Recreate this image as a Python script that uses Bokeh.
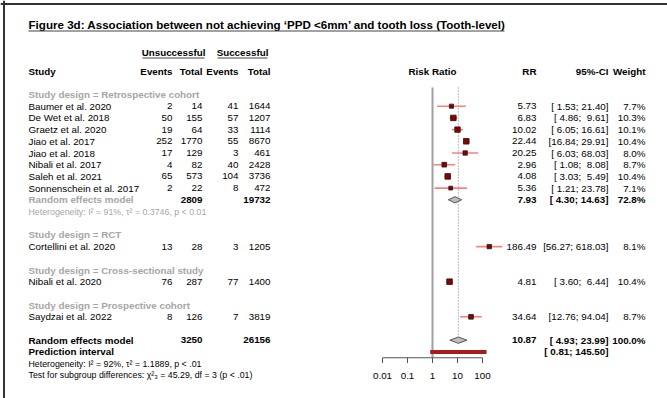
from bokeh.plotting import figure
from bokeh.models import Range1d, LogScale, Span
from bokeh.core.properties import value
from bokeh.embed import file_html
from bokeh.resources import INLINE

# ---------------- data ----------------
title = "Figure 3d: Association between not achieving \u2018PPD <6mm\u2019 and tooth loss (Tooth-level)"
group_names = ["Retrospective cohort", "RCT", "Cross-sectional study", "Prospective cohort"]
studies = ["Baumer et al. 2020", "De Wet et al. 2018", "Graetz et al. 2020", "Jiao et al. 2017",
           "Jiao et al. 2018", "Nibali et al. 2017", "Saleh et al. 2021", "Sonnenschein et al. 2017",
           "Cortellini et al. 2020", "Nibali et al. 2020", "Saydzai et al. 2022"]
study_group = [0, 0, 0, 0, 0, 0, 0, 0, 1, 2, 3]
ev_u = [2, 50, 19, 252, 17, 4, 65, 2, 13, 76, 8]
tot_u = [14, 155, 64, 1770, 129, 82, 573, 22, 28, 287, 126]
ev_s = [41, 57, 33, 55, 3, 40, 104, 8, 3, 77, 7]
tot_s = [1644, 1207, 1114, 8670, 461, 2428, 3736, 472, 1205, 1400, 3819]
rr = [5.73, 6.83, 10.02, 22.44, 20.25, 2.96, 4.08, 5.36, 186.49, 4.81, 34.64]
ci_lo = [1.53, 4.86, 6.05, 16.84, 6.03, 1.08, 3.03, 1.21, 56.27, 3.60, 12.76]
ci_hi = [21.40, 9.61, 16.61, 29.91, 68.03, 8.08, 5.49, 23.78, 618.03, 6.44, 94.04]
weight = [7.7, 10.3, 10.1, 10.4, 8.0, 8.7, 10.4, 7.1, 8.1, 10.4, 8.7]

# subgroup random-effects summary (only the retrospective cohort has one)
sub_rr = [7.93]
sub_lo = [4.30]
sub_hi = [14.63]
sub_w = [72.8]
sub_tot_u = [2809]
sub_tot_s = [19732]
sub_het = ["Heterogeneity: I\u00b2 = 91%, \u03c4\u00b2 = 0.3746, p < 0.01"]

# overall
all_rr, all_lo, all_hi, all_w = 10.87, 4.93, 23.99, 100.0
all_tot_u, all_tot_s = 3250, 26156
pred_lo, pred_hi = 0.81, 145.50
all_het = "Heterogeneity: I\u00b2 = 92%, \u03c4\u00b2 = 1.1889, p < .01"
test_sub = "Test for subgroup differences: \u03c7\u00b2\u2083 = 45.29, df = 3 (p < .01)"

tick_vals = [0.01, 0.1, 1, 10, 100]
tick_labels = ["0.01", "0.1", "1", "10", "100"]

# ---------------- layout ----------------
W, H = 667, 398
Y0, DY = 94.0, 11.7          # pixel of row 0, row height
X1, XD = 432.0, 25.0         # pixel of RR=1, pixels per decade

def row_of_px(px):
    return (px - Y0) / DY

FONT = value("Liberation Sans")
FS = "9.8px"
FS_SMALL = "8.8px"
GRAY = "#a6a6a6"

p = figure(width=W, height=H, output_backend="svg", toolbar_location=None,
           x_range=Range1d(0, W), y_range=Range1d(row_of_px(H), row_of_px(0)),
           x_axis_type=None, y_axis_type=None, min_border=0)
p.outline_line_color = None
p.grid.visible = False
p.background_fill_color = "white"
p.extra_x_ranges = {"log": Range1d(10 ** ((0 - X1) / XD), 10 ** ((W - X1) / XD))}
p.extra_x_scales = {"log": LogScale()}

# column positions (px)
C_LABEL, C_EU, C_TU, C_ES, C_TS = 28, 172, 202, 238, 270
C_RR, C_CI, C_W = 536, 608, 645

def txt(x, y, t, align="left", bold=False, color="black", size=FS, italic=False):
    style = "bold" if bold else ("italic" if italic else "normal")
    p.text(x=x, y=y, text=t, text_font=FONT, text_font_size=size,
           text_font_style=style, text_color=color, text_align=align,
           text_baseline="middle")

def ci_str(lo, hi):
    return ("[%5.2f; %5.2f]" % (lo, hi)).replace(" ", "\u00a0")

# frame lines
p.add_layout(Span(location=row_of_px(3.5), dimension="width", line_color="#333333", line_width=2))
p.add_layout(Span(location=3.5, dimension="height", line_color="#333333", line_width=2))

# title
r_title = row_of_px(23.5)
txt([C_LABEL], [r_title], [title], bold=True, size="11.6px")
p.segment(x0=[C_LABEL], x1=[504], y0=[row_of_px(30.5)], y1=[row_of_px(30.5)], line_color="#444444", line_width=1)

# headers
r_h1 = row_of_px(52)
txt([173, 242], [r_h1, r_h1], ["Unsuccessful", "Successful"], align="center", bold=True)
ul = row_of_px(57.5)
p.segment(x0=[142, 217], x1=[204, 267], y0=[ul, ul], y1=[ul, ul], line_color="#444444", line_width=1)
r_h2 = -2
txt([C_LABEL], [r_h2], ["Study"], bold=True)
txt([C_EU, C_TU, C_ES, C_TS, C_RR, C_CI, C_W], [r_h2] * 7,
    ["Events", "Total", "Events", "Total", "RR", "95%-CI", "Weight"], align="right", bold=True)
txt([X1], [r_h2], ["Risk Ratio"], align="center", bold=True)

# assign rows
rows = []
r = 0
sub_rows = []
het_rows = []
for g, gname in enumerate(group_names):
    txt([C_LABEL], [r], ["Study design = " + gname], bold=True, color=GRAY)
    r += 1
    for i, sg in enumerate(study_group):
        if sg == g:
            rows.append(r)
            r += 1
    if g == 0:
        sub_rows.append(r)
        r += 1
        het_rows.append(r)
        r += 1
    r += 1
r_all = r
r_pred = r + 1
r_het = r + 2
r_test = r + 3

# study text columns
txt([C_LABEL] * len(studies), rows, studies)
txt([C_EU] * len(rows), rows, [str(v) for v in ev_u], align="right")
txt([C_TU] * len(rows), rows, [str(v) for v in tot_u], align="right")
txt([C_ES] * len(rows), rows, [str(v) for v in ev_s], align="right")
txt([C_TS] * len(rows), rows, [str(v) for v in tot_s], align="right")
txt([C_RR] * len(rows), rows, ["%.2f" % v for v in rr], align="right")
txt([C_CI] * len(rows), rows, [ci_str(a, b) for a, b in zip(ci_lo, ci_hi)], align="right")
txt([C_W] * len(rows), rows, ["%.1f%%" % v for v in weight], align="right")

# subgroup summary text
txt([C_LABEL] * len(sub_rows), sub_rows, ["Random effects model"] * len(sub_rows), bold=True, color=GRAY)
txt([C_TU] * len(sub_rows), sub_rows, [str(v) for v in sub_tot_u], align="right", bold=True)
txt([C_TS] * len(sub_rows), sub_rows, [str(v) for v in sub_tot_s], align="right", bold=True)
txt([C_RR] * len(sub_rows), sub_rows, ["%.2f" % v for v in sub_rr], align="right", bold=True)
txt([C_CI] * len(sub_rows), sub_rows, [ci_str(a, b) for a, b in zip(sub_lo, sub_hi)], align="right", bold=True)
txt([C_W] * len(sub_rows), sub_rows, ["%.1f%%" % v for v in sub_w], align="right", bold=True)
txt([C_LABEL] * len(het_rows), het_rows, sub_het, color=GRAY, size=FS_SMALL)

# overall text
txt([C_LABEL, C_LABEL], [r_all, r_pred], ["Random effects model", "Prediction interval"], bold=True)
txt([C_TU, C_TS], [r_all, r_all], [str(all_tot_u), str(all_tot_s)], align="right", bold=True)
txt([C_RR, C_CI, C_W, C_CI], [r_all, r_all, r_all, r_pred],
    ["%.2f" % all_rr, ci_str(all_lo, all_hi), "%.1f%%" % all_w, ci_str(pred_lo, pred_hi)],
    align="right", bold=True)
txt([C_LABEL, C_LABEL], [r_het, r_test], [all_het, test_sub], size=FS_SMALL)

# ---------------- forest graphics (log scale) ----------------
r_top = -0.6
r_axis = r_pred + 0.5
# reference line at 1
p.segment(x0=[1], x1=[1], y0=[r_top], y1=[r_axis], line_color="#a0a0a0", line_width=2, x_range_name="log")
# dotted line at overall estimate
p.segment(x0=[all_rr], x1=[all_rr], y0=[r_top], y1=[r_all - 0.3], line_color="#808080",
          line_width=1, line_dash="1 2", x_range_name="log")

# CIs
p.segment(x0=ci_lo, x1=ci_hi, y0=rows, y1=rows, line_color="#f4837d", line_width=1.6, x_range_name="log")
# squares
sizes = [5.6 * w / max(weight) for w in weight]
p.scatter(x=rr, y=rows, size=sizes, marker="square", fill_color="#8b0000",
          line_color="#1a1a1a", line_width=0.8, x_range_name="log")

# diamonds
def diamond(est, lo, hi, row, h=0.27):
    p.patch(x=[lo, est, hi, est], y=[row, row - h, row, row + h], fill_color="#bdbdbd",
            line_color="#555555", line_width=1, x_range_name="log")

for e, lo, hi, rw in zip(sub_rr, sub_lo, sub_hi, sub_rows):
    diamond(e, lo, hi, rw)
diamond(all_rr, all_lo, all_hi, r_all)

# prediction interval
p.segment(x0=[pred_lo], x1=[pred_hi], y0=[r_pred], y1=[r_pred], line_color="#a41d1d",
          line_width=4, x_range_name="log")

# axis
p.segment(x0=[tick_vals[0]], x1=[tick_vals[-1]], y0=[r_axis], y1=[r_axis], line_color="#555555",
          line_width=1, x_range_name="log")
p.segment(x0=tick_vals, x1=tick_vals, y0=[r_axis] * len(tick_vals), y1=[r_axis + 0.45] * len(tick_vals),
          line_color="#555555", line_width=1, x_range_name="log")
p.text(x=tick_vals, y=[r_axis + 1.55] * len(tick_vals), text=tick_labels, text_font=FONT,
       text_font_size=FS, text_align="center", text_baseline="middle", x_range_name="log")

open("out.html", "w").write(file_html(p, INLINE))
